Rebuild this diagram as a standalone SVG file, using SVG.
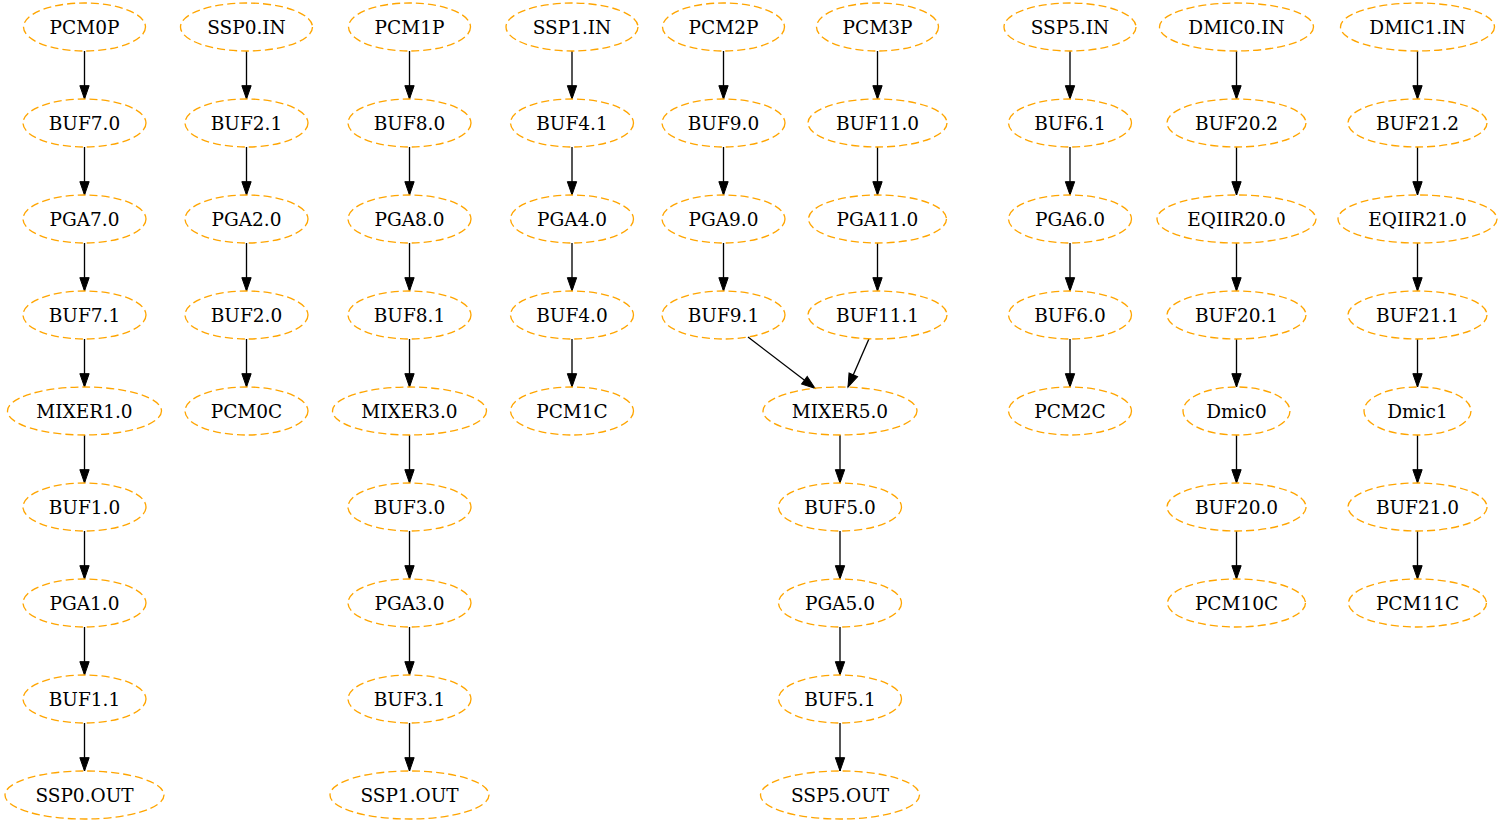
<svg xmlns="http://www.w3.org/2000/svg" width="1502" height="827" viewBox="0 0 1502 827">
<style>
.n ellipse{fill:none;stroke:#FFA500;stroke-width:1.33;stroke-dasharray:8 4}
.n text{font-family:"DejaVu Serif","Liberation Serif",serif;font-size:18.5px;text-anchor:middle;fill:#000}
#edges path{fill:none;stroke:#000;stroke-width:1.33;marker-end:url(#ah)}
</style>
<defs>
<marker id="ah" markerUnits="userSpaceOnUse" markerWidth="14" markerHeight="10" refX="13.33" refY="4.67" orient="auto" overflow="visible">
<path d="M0,0 L13.33,4.67 L0,9.33 Z" fill="#000" stroke="#000" stroke-width="1"/>
</marker>
</defs>
<rect width="1502" height="827" fill="#fff"/>
<g id="edges">
<path d="M84.5,51V99"/><path d="M84.5,147V195"/><path d="M84.5,243V291"/><path d="M84.5,339V387"/><path d="M84.5,435V483"/><path d="M84.5,531V579"/><path d="M84.5,627V675"/><path d="M84.5,723V771"/>
<path d="M246.5,51V99"/><path d="M246.5,147V195"/><path d="M246.5,243V291"/><path d="M246.5,339V387"/>
<path d="M409.5,51V99"/><path d="M409.5,147V195"/><path d="M409.5,243V291"/><path d="M409.5,339V387"/><path d="M409.5,435V483"/><path d="M409.5,531V579"/><path d="M409.5,627V675"/><path d="M409.5,723V771"/>
<path d="M572,51V99"/><path d="M572,147V195"/><path d="M572,243V291"/><path d="M572,339V387"/>
<path d="M723.5,51V99"/><path d="M723.5,147V195"/><path d="M723.5,243V291"/>
<path d="M877.5,51V99"/><path d="M877.5,147V195"/><path d="M877.5,243V291"/>
<path d="M748,337L815,388.3"/><path d="M869,338.8L848,387.1"/>
<path d="M840,435V483"/><path d="M840,531V579"/><path d="M840,627V675"/><path d="M840,723V771"/>
<path d="M1070,51V99"/><path d="M1070,147V195"/><path d="M1070,243V291"/><path d="M1070,339V387"/>
<path d="M1236.5,51V99"/><path d="M1236.5,147V195"/><path d="M1236.5,243V291"/><path d="M1236.5,339V387"/><path d="M1236.5,435V483"/><path d="M1236.5,531V579"/>
<path d="M1417.5,51V99"/><path d="M1417.5,147V195"/><path d="M1417.5,243V291"/><path d="M1417.5,339V387"/><path d="M1417.5,435V483"/><path d="M1417.5,531V579"/>
</g>
<g id="PCM0P" class="n"><ellipse cx="84.5" cy="27" rx="61" ry="24"/><text x="84.5" y="34">PCM0P</text></g>
<g id="BUF7.0" class="n"><ellipse cx="84.5" cy="123" rx="61.5" ry="24"/><text x="84.5" y="130">BUF7.0</text></g>
<g id="PGA7.0" class="n"><ellipse cx="84.5" cy="219" rx="61.5" ry="24"/><text x="84.5" y="226">PGA7.0</text></g>
<g id="BUF7.1" class="n"><ellipse cx="84.5" cy="315" rx="61.5" ry="24"/><text x="84.5" y="322">BUF7.1</text></g>
<g id="MIXER1.0" class="n"><ellipse cx="84.5" cy="411" rx="77" ry="24"/><text x="84.5" y="418">MIXER1.0</text></g>
<g id="BUF1.0" class="n"><ellipse cx="84.5" cy="507" rx="61.5" ry="24"/><text x="84.5" y="514">BUF1.0</text></g>
<g id="PGA1.0" class="n"><ellipse cx="84.5" cy="603" rx="61.5" ry="24"/><text x="84.5" y="610">PGA1.0</text></g>
<g id="BUF1.1" class="n"><ellipse cx="84.5" cy="699" rx="61.5" ry="24"/><text x="84.5" y="706">BUF1.1</text></g>
<g id="SSP0.OUT" class="n"><ellipse cx="84.5" cy="795" rx="79.5" ry="24"/><text x="84.5" y="802">SSP0.OUT</text></g>
<g id="SSP0.IN" class="n"><ellipse cx="246.5" cy="27" rx="66" ry="24"/><text x="246.5" y="34">SSP0.IN</text></g>
<g id="BUF2.1" class="n"><ellipse cx="246.5" cy="123" rx="61.5" ry="24"/><text x="246.5" y="130">BUF2.1</text></g>
<g id="PGA2.0" class="n"><ellipse cx="246.5" cy="219" rx="61.5" ry="24"/><text x="246.5" y="226">PGA2.0</text></g>
<g id="BUF2.0" class="n"><ellipse cx="246.5" cy="315" rx="61.5" ry="24"/><text x="246.5" y="322">BUF2.0</text></g>
<g id="PCM0C" class="n"><ellipse cx="246.5" cy="411" rx="61.5" ry="24"/><text x="246.5" y="418">PCM0C</text></g>
<g id="PCM1P" class="n"><ellipse cx="409.5" cy="27" rx="61" ry="24"/><text x="409.5" y="34">PCM1P</text></g>
<g id="BUF8.0" class="n"><ellipse cx="409.5" cy="123" rx="61.5" ry="24"/><text x="409.5" y="130">BUF8.0</text></g>
<g id="PGA8.0" class="n"><ellipse cx="409.5" cy="219" rx="61.5" ry="24"/><text x="409.5" y="226">PGA8.0</text></g>
<g id="BUF8.1" class="n"><ellipse cx="409.5" cy="315" rx="61.5" ry="24"/><text x="409.5" y="322">BUF8.1</text></g>
<g id="MIXER3.0" class="n"><ellipse cx="409.5" cy="411" rx="77" ry="24"/><text x="409.5" y="418">MIXER3.0</text></g>
<g id="BUF3.0" class="n"><ellipse cx="409.5" cy="507" rx="61.5" ry="24"/><text x="409.5" y="514">BUF3.0</text></g>
<g id="PGA3.0" class="n"><ellipse cx="409.5" cy="603" rx="61.5" ry="24"/><text x="409.5" y="610">PGA3.0</text></g>
<g id="BUF3.1" class="n"><ellipse cx="409.5" cy="699" rx="61.5" ry="24"/><text x="409.5" y="706">BUF3.1</text></g>
<g id="SSP1.OUT" class="n"><ellipse cx="409.5" cy="795" rx="79.5" ry="24"/><text x="409.5" y="802">SSP1.OUT</text></g>
<g id="SSP1.IN" class="n"><ellipse cx="572" cy="27" rx="66" ry="24"/><text x="572" y="34">SSP1.IN</text></g>
<g id="BUF4.1" class="n"><ellipse cx="572" cy="123" rx="61.5" ry="24"/><text x="572" y="130">BUF4.1</text></g>
<g id="PGA4.0" class="n"><ellipse cx="572" cy="219" rx="61.5" ry="24"/><text x="572" y="226">PGA4.0</text></g>
<g id="BUF4.0" class="n"><ellipse cx="572" cy="315" rx="61.5" ry="24"/><text x="572" y="322">BUF4.0</text></g>
<g id="PCM1C" class="n"><ellipse cx="572" cy="411" rx="61.5" ry="24"/><text x="572" y="418">PCM1C</text></g>
<g id="PCM2P" class="n"><ellipse cx="723.5" cy="27" rx="61" ry="24"/><text x="723.5" y="34">PCM2P</text></g>
<g id="BUF9.0" class="n"><ellipse cx="723.5" cy="123" rx="61.5" ry="24"/><text x="723.5" y="130">BUF9.0</text></g>
<g id="PGA9.0" class="n"><ellipse cx="723.5" cy="219" rx="61.5" ry="24"/><text x="723.5" y="226">PGA9.0</text></g>
<g id="BUF9.1" class="n"><ellipse cx="723.5" cy="315" rx="61.5" ry="24"/><text x="723.5" y="322">BUF9.1</text></g>
<g id="PCM3P" class="n"><ellipse cx="877.5" cy="27" rx="61" ry="24"/><text x="877.5" y="34">PCM3P</text></g>
<g id="BUF11.0" class="n"><ellipse cx="877.5" cy="123" rx="69.5" ry="24"/><text x="877.5" y="130">BUF11.0</text></g>
<g id="PGA11.0" class="n"><ellipse cx="877.5" cy="219" rx="69" ry="24"/><text x="877.5" y="226">PGA11.0</text></g>
<g id="BUF11.1" class="n"><ellipse cx="877.5" cy="315" rx="69.5" ry="24"/><text x="877.5" y="322">BUF11.1</text></g>
<g id="MIXER5.0" class="n"><ellipse cx="840" cy="411" rx="77" ry="24"/><text x="840" y="418">MIXER5.0</text></g>
<g id="BUF5.0" class="n"><ellipse cx="840" cy="507" rx="61.5" ry="24"/><text x="840" y="514">BUF5.0</text></g>
<g id="PGA5.0" class="n"><ellipse cx="840" cy="603" rx="61.5" ry="24"/><text x="840" y="610">PGA5.0</text></g>
<g id="BUF5.1" class="n"><ellipse cx="840" cy="699" rx="61.5" ry="24"/><text x="840" y="706">BUF5.1</text></g>
<g id="SSP5.OUT" class="n"><ellipse cx="840" cy="795" rx="79.5" ry="24"/><text x="840" y="802">SSP5.OUT</text></g>
<g id="SSP5.IN" class="n"><ellipse cx="1070" cy="27" rx="66" ry="24"/><text x="1070" y="34">SSP5.IN</text></g>
<g id="BUF6.1" class="n"><ellipse cx="1070" cy="123" rx="61.5" ry="24"/><text x="1070" y="130">BUF6.1</text></g>
<g id="PGA6.0" class="n"><ellipse cx="1070" cy="219" rx="61.5" ry="24"/><text x="1070" y="226">PGA6.0</text></g>
<g id="BUF6.0" class="n"><ellipse cx="1070" cy="315" rx="61.5" ry="24"/><text x="1070" y="322">BUF6.0</text></g>
<g id="PCM2C" class="n"><ellipse cx="1070" cy="411" rx="61.5" ry="24"/><text x="1070" y="418">PCM2C</text></g>
<g id="DMIC0.IN" class="n"><ellipse cx="1236.5" cy="27" rx="77" ry="24"/><text x="1236.5" y="34">DMIC0.IN</text></g>
<g id="BUF20.2" class="n"><ellipse cx="1236.5" cy="123" rx="69.5" ry="24"/><text x="1236.5" y="130">BUF20.2</text></g>
<g id="EQIIR20.0" class="n"><ellipse cx="1236.5" cy="219" rx="79.5" ry="24"/><text x="1236.5" y="226">EQIIR20.0</text></g>
<g id="BUF20.1" class="n"><ellipse cx="1236.5" cy="315" rx="69.5" ry="24"/><text x="1236.5" y="322">BUF20.1</text></g>
<g id="Dmic0" class="n"><ellipse cx="1236.5" cy="411" rx="53.5" ry="24"/><text x="1236.5" y="418">Dmic0</text></g>
<g id="BUF20.0" class="n"><ellipse cx="1236.5" cy="507" rx="69.5" ry="24"/><text x="1236.5" y="514">BUF20.0</text></g>
<g id="PCM10C" class="n"><ellipse cx="1236.5" cy="603" rx="69" ry="24"/><text x="1236.5" y="610">PCM10C</text></g>
<g id="DMIC1.IN" class="n"><ellipse cx="1417.5" cy="27" rx="77" ry="24"/><text x="1417.5" y="34">DMIC1.IN</text></g>
<g id="BUF21.2" class="n"><ellipse cx="1417.5" cy="123" rx="69.5" ry="24"/><text x="1417.5" y="130">BUF21.2</text></g>
<g id="EQIIR21.0" class="n"><ellipse cx="1417.5" cy="219" rx="79.5" ry="24"/><text x="1417.5" y="226">EQIIR21.0</text></g>
<g id="BUF21.1" class="n"><ellipse cx="1417.5" cy="315" rx="69.5" ry="24"/><text x="1417.5" y="322">BUF21.1</text></g>
<g id="Dmic1" class="n"><ellipse cx="1417.5" cy="411" rx="53.5" ry="24"/><text x="1417.5" y="418">Dmic1</text></g>
<g id="BUF21.0" class="n"><ellipse cx="1417.5" cy="507" rx="69.5" ry="24"/><text x="1417.5" y="514">BUF21.0</text></g>
<g id="PCM11C" class="n"><ellipse cx="1417.5" cy="603" rx="69" ry="24"/><text x="1417.5" y="610">PCM11C</text></g>
</svg>
